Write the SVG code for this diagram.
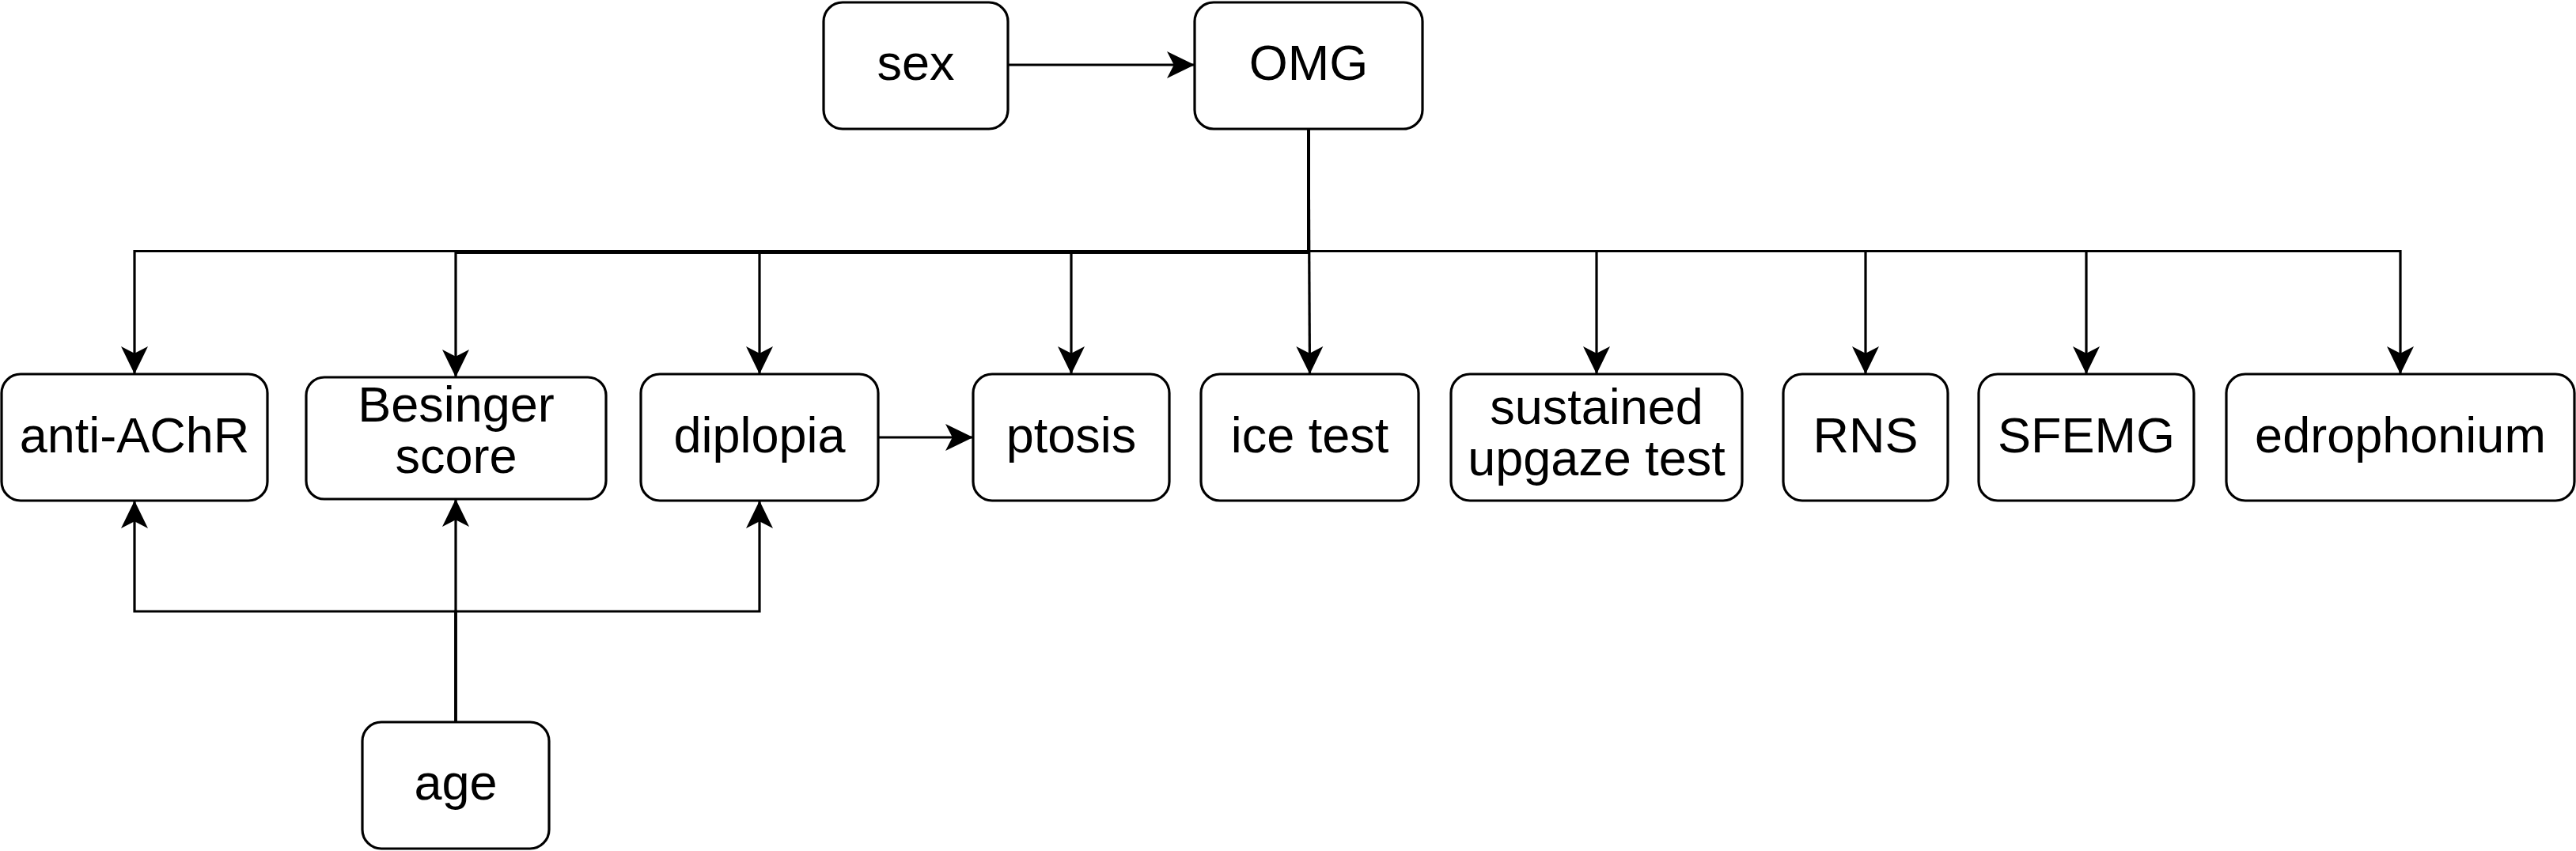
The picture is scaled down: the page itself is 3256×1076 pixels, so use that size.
<svg xmlns="http://www.w3.org/2000/svg" width="3256" height="1076" viewBox="0 0 3256 1076">
  <style>
    .box { fill: #ffffff; stroke: #000000; stroke-width: 3.2; }
    .lbl { font-family: "Liberation Sans", Arial, Helvetica, sans-serif; font-size: 63px; fill: #000000; text-anchor: middle; }
    .edge { fill: none; stroke: #000000; stroke-width: 3.2; marker-end: url(#arrow); }
  </style>
  <defs>
    <marker id="arrow" markerUnits="userSpaceOnUse" viewBox="0 -18 36 36" refX="35" refY="0" markerWidth="36" markerHeight="36" orient="auto">
      <path d="M0,-17 L35,0 L0,17 L8.75,0 Z" fill="#000000" stroke="none"/>
    </marker>
  </defs>
  <rect width="3256" height="1076" fill="#ffffff"/>

  <g id="connectors">
    <path class="edge" d="M1274,82 H1510"/>
    <path class="edge" d="M1654,162 V317.5 H170 V473"/>
    <path class="edge" d="M1654,162 V319.5 H576 V477"/>
    <path class="edge" d="M1654,162 V317.5 H960 V473"/>
    <path class="edge" d="M1654,162 V317.5 H1354 V473"/>
    <path class="edge" d="M1654,162 L1655.5,473"/>
    <path class="edge" d="M1654,162 V317.5 H2018 V473"/>
    <path class="edge" d="M1654,162 V317.5 H2358 V473"/>
    <path class="edge" d="M1654,162 V317.5 H2637 V473"/>
    <path class="edge" d="M1654,162 V317.5 H3034 V473"/>
    <path class="edge" d="M1110,553 H1230"/>
    <path class="edge" d="M576,913 V773 H170 V633"/>
    <path class="edge" d="M576,913 V631"/>
    <path class="edge" d="M576,913 V773 H960 V633"/>
  </g>

  <g id="node-sex">
    <rect class="box" x="1041" y="3" width="233" height="160" rx="24" ry="24"/>
    <text class="lbl" x="1157.5" y="101">sex</text>
  </g>
  <g id="node-omg">
    <rect class="box" x="1510" y="3" width="288" height="160" rx="24" ry="24"/>
    <text class="lbl" x="1654" y="101">OMG</text>
  </g>
  <g id="node-anti-achr">
    <rect class="box" x="2" y="473" width="336" height="160" rx="24" ry="24"/>
    <text class="lbl" x="170" y="572">anti-AChR</text>
  </g>
  <g id="node-besinger">
    <rect class="box" x="387" y="477" width="379" height="154" rx="23" ry="23"/>
    <text class="lbl" x="576.5" y="533">Besinger</text>
    <text class="lbl" x="576.5" y="598">score</text>
  </g>
  <g id="node-diplopia">
    <rect class="box" x="810" y="473" width="300" height="160" rx="24" ry="24"/>
    <text class="lbl" x="960" y="572">diplopia</text>
  </g>
  <g id="node-ptosis">
    <rect class="box" x="1230" y="473" width="248" height="160" rx="24" ry="24"/>
    <text class="lbl" x="1354" y="572">ptosis</text>
  </g>
  <g id="node-ice-test">
    <rect class="box" x="1518" y="473" width="275" height="160" rx="24" ry="24"/>
    <text class="lbl" x="1655.5" y="572">ice test</text>
  </g>
  <g id="node-sustained">
    <rect class="box" x="1834" y="473" width="368" height="160" rx="24" ry="24"/>
    <text class="lbl" x="2018" y="536">sustained</text>
    <text class="lbl" x="2018" y="601">upgaze test</text>
  </g>
  <g id="node-rns">
    <rect class="box" x="2254" y="473" width="208" height="160" rx="24" ry="24"/>
    <text class="lbl" x="2358" y="572">RNS</text>
  </g>
  <g id="node-sfemg">
    <rect class="box" x="2501" y="473" width="272" height="160" rx="24" ry="24"/>
    <text class="lbl" x="2637" y="572">SFEMG</text>
  </g>
  <g id="node-edrophonium">
    <rect class="box" x="2814" y="473" width="440" height="160" rx="24" ry="24"/>
    <text class="lbl" x="3034" y="572">edrophonium</text>
  </g>
  <g id="node-age">
    <rect class="box" x="458" y="913" width="236" height="160" rx="24" ry="24"/>
    <text class="lbl" x="576" y="1011">age</text>
  </g>
</svg>
